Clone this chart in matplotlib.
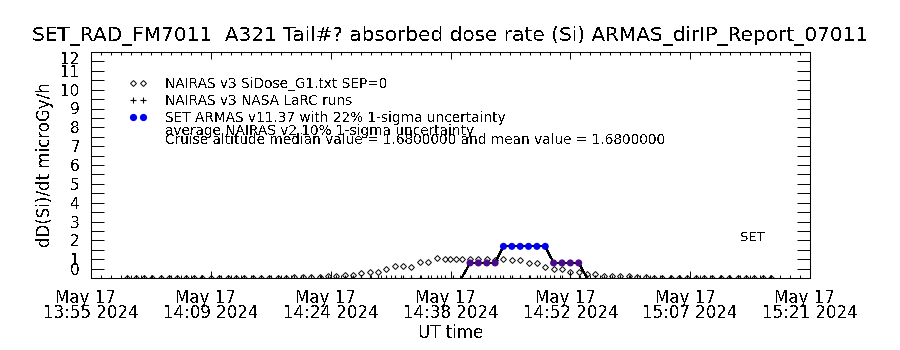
import matplotlib
matplotlib.use("Agg")
import matplotlib.pyplot as plt
import matplotlib.dates as mdates
from matplotlib.lines import Line2D
import numpy as np
import pandas as pd

plt.rcParams["font.family"] = ["DejaVu Sans"]
plt.rcParams["text.antialiased"] = False
plt.rcParams["lines.antialiased"] = False

DAY = "2024-05-17 "

# plotted time span
t_start = pd.Timestamp(DAY + "13:55:30")
t_end = pd.Timestamp(DAY + "15:21:30")

# NAIRAS v3 SiDose_G1 model: minutes after the first sample, and dose rate
nairas_start = pd.Timestamp(DAY + "13:59:50")
nairas_minutes = list(range(0, 39)) + [38.65, 39.3] + list(range(40, 78))
nairas_dose = [
    0, 0, 0, 0, 0, 0, 0, 0, 0, 0,
    0, 0, 0, 0, 0, 0.02, 0.02, 0.02, 0.02, 0.02,
    0.04, 0.04, 0.04, 0.07, 0.09, 0.11, 0.16, 0.17, 0.25, 0.34,
    0.31, 0.48, 0.63, 0.62, 0.61, 0.85, 0.86, 1.04, 1.0, 1.0,
    1.0, 1.0, 0.99, 0.99, 0.99, 0.98, 0.99, 0.96, 0.96, 0.78,
    0.78, 0.57, 0.46, 0.46, 0.30, 0.30, 0.22, 0.22, 0.10, 0.10,
    0.08, 0.08, 0.05, 0.04, 0.02, 0.02, 0.02, 0.02, 0.02, 0,
    0, 0, 0, 0, 0, 0, 0, 0, 0,
]

# NAIRAS v3 NASA LaRC runs (all zero over the flight)
larc_minutes = list(range(0, 78))
larc_dose = [0] * 78

# SET ARMAS v11.37 measurements
armas_times = [
    "14:39:50", "14:40:50", "14:41:50", "14:42:50", "14:43:50",
    "14:44:50", "14:45:50", "14:46:50", "14:47:50", "14:48:50",
    "14:49:50", "14:50:50", "14:51:50", "14:52:50", "14:53:50",
    "14:54:50",
]
armas_dose = [0, 0.8, 0.8, 0.8, 0.8, 1.68, 1.68, 1.68, 1.68, 1.68,
              1.68, 0.8, 0.8, 0.8, 0.8, 0]

cruise_median = 1.68
cruise_mean = 1.68

title = ("SET_RAD_FM7011  A321 Tail#? absorbed dose rate (Si) "
         "ARMAS_dirIP_Report_07011")
legend_labels = [
    "NAIRAS v3 SiDose_G1.txt SEP=0",
    "NAIRAS v3 NASA LaRC runs",
    "SET ARMAS v11.37 with 22% 1-sigma uncertainty",
]
note_uncert = "average NAIRAS v2 10% 1-sigma uncertainty"

BLUE = "#0000f0"
PURPLE = "#4b0a8a"

nairas_t = nairas_start + pd.to_timedelta(nairas_minutes, unit="m")
larc_t = nairas_start + pd.to_timedelta(larc_minutes, unit="m")
armas_t = pd.to_datetime([DAY + s for s in armas_times])
armas_v = np.array(armas_dose)

fig = plt.figure(figsize=(9, 3.5), dpi=100)
ax = fig.add_axes([91 / 900, 1 - 278 / 350, 719 / 900, 226 / 350])

ax.plot(larc_t.to_numpy(), larc_dose, ls="none", marker="+", ms=5,
        mew=0.8, color="k", zorder=3)
ax.plot(nairas_t.to_numpy(), nairas_dose, ls="none", marker="D", ms=3.0,
        mfc="none", mec="k", mew=0.7, zorder=3)
ax.plot(armas_t.to_numpy(), armas_v, color="k", lw=0.8, zorder=4)
nz = armas_v > 0
cols = np.where(armas_v[nz] > 1.0, BLUE, PURPLE)
ax.scatter(armas_t.to_numpy()[nz], armas_v[nz], s=26, c=cols,
           edgecolors="none", zorder=5)

ax.set_xlim(t_start.to_numpy(), t_end.to_numpy())
ax.set_ylim(0, 12)

major = pd.date_range(t_start, t_end, periods=7)
minor = pd.date_range(t_start, t_end, periods=73)
ax.set_xticks(mdates.date2num(major.to_pydatetime()))
ax.set_xticks(mdates.date2num(minor.to_pydatetime()), minor=True)
ax.set_xticklabels([t.strftime("%b %d  \n%H:%M %Y") for t in major],
                   fontsize=12, linespacing=0.75)

ax.set_yticks(np.arange(0, 13, 1))
ax.set_yticks(np.arange(0.5, 12, 1), minor=True)
ax.set_yticklabels([str(v) for v in range(13)], fontsize=11)

ax.tick_params(axis="y", which="both", direction="in", length=9.4,
               width=0.7, left=True, right=True, pad=8)
ax.tick_params(axis="x", which="major", direction="in", length=5,
               width=0.7, top=True, bottom=True, pad=8)
ax.tick_params(axis="x", which="minor", direction="in", length=2.5,
               width=0.7, top=True, bottom=True)
for s in ax.spines.values():
    s.set_linewidth(0.75)

yt = ax.yaxis.get_major_ticks()
yt[0].label1.set_va("bottom")
yt[-1].label1.set_va("top")

ax.set_ylabel("dD(Si)/dt microGy/h", fontsize=12, va="center")
ax.yaxis.set_label_coords(-0.064, 0.5)
ax.set_xlabel("UT time", fontsize=12, va="center")
ax.xaxis.set_label_coords(0.5, -0.245)

fig.text(0.5, 1 - 36 / 350, title, ha="center", va="center", fontsize=14.4)

handles = [
    Line2D([], [], ls="none", marker="D", ms=3.0, mfc="none", mec="k",
           mew=0.7),
    Line2D([], [], ls="none", marker="+", ms=5, mew=0.8, color="k"),
    Line2D([], [], ls="none", marker="o", ms=5.2, mfc=BLUE, mec="none"),
]
ax.legend(handles, legend_labels, loc="upper left",
          bbox_to_anchor=(0.0527, 0.890), numpoints=2, frameon=False,
          fontsize=9.8, handlelength=1.34, handletextpad=1.32,
          labelspacing=0.22, borderpad=0, borderaxespad=0)

ax.text(0.1029, 0.650, note_uncert, transform=ax.transAxes, fontsize=9.8,
        va="center", ha="left")
ax.text(0.1029, 0.611,
        "Cruise altitude median value = %.7f and mean value = %.7f"
        % (cruise_median, cruise_mean),
        transform=ax.transAxes, fontsize=9.8, va="center", ha="left")
ax.text(0.92, 0.18, "SET", transform=ax.transAxes, fontsize=9.5,
        ha="center", va="center")

fig.savefig("out.png", dpi=100)
